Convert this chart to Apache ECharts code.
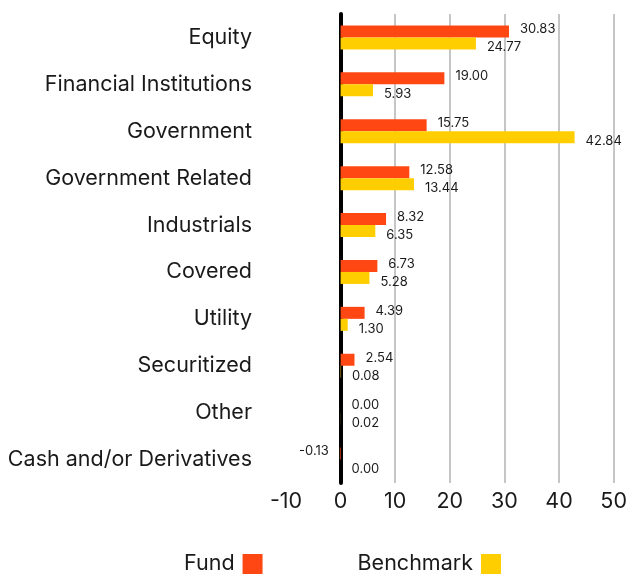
<!DOCTYPE html>
<html>
<head>
<meta charset="utf-8">
<script src="https://cdn.jsdelivr.net/npm/echarts@6/dist/echarts.min.js"></script>
<style>html,body{margin:0;padding:0;background:#fff}#c{width:630px;height:579px}</style>
</head>
<body>
<div id="c"></div>
<script>
const categories = ["Equity","Financial Institutions","Government","Government Related","Industrials","Covered","Utility","Securitized","Other","Cash and/or Derivatives"];
const fundValues = [30.83, 19.00, 15.75, 12.58, 8.32, 6.73, 4.39, 2.54, 0.00, -0.13];
const benchmarkValues = [24.77, 5.93, 42.84, 13.44, 6.35, 5.28, 1.30, 0.08, 0.02, 0.00];
const xTicks = [-10, 0, 10, 20, 30, 40, 50];

const FONT = 'Inter';
const chart = echarts.init(document.getElementById('c'));

function mk(vals, dy) {
  return vals.map(v => ({
    value: v,
    label: {
      position: v < 0 ? 'left' : 'right',
      offset: [0, dy]
    }
  }));
}

chart.setOption({
  animation: false,
  textStyle: { fontFamily: FONT },
  grid: { left: 286, right: 13, top: 14, bottom: 96, containLabel: false },
  legend: {
    left: 179, top: 548,
    align: 'right',
    itemWidth: 20, itemHeight: 20, itemGap: 95,
    icon: 'rect',
    textStyle: { fontFamily: FONT, fontSize: 21.5, color: '#1a1a1a', padding: [0, 3, 0, 0] },
    data: ['Fund', 'Benchmark']
  },
  xAxis: {
    type: 'value',
    min: xTicks[0], max: xTicks[xTicks.length - 1], interval: 10,
    axisLine: { show: false },
    axisTick: { show: false },
    axisLabel: { fontFamily: FONT, fontSize: 21.5, color: '#1a1a1a', margin: 8 },
    splitLine: { show: true, showMinLine: false, lineStyle: { color: '#c6c6c6', width: 2 } }
  },
  yAxis: {
    type: 'category',
    inverse: true,
    data: categories,
    axisLine: { show: true, onZero: true, lineStyle: { color: '#000', width: 4 } },
    axisTick: { show: false },
    axisLabel: { fontFamily: FONT, fontSize: 21.5, color: '#1a1a1a', margin: 34 },
    splitLine: { show: false }
  },
  series: [
    {
      name: 'Fund', type: 'bar', barWidth: 12, barGap: '0%',
      itemStyle: { color: '#FF4713' },
      label: { show: true, distance: 11, fontFamily: FONT, fontSize: 13, color: '#1a1a1a',
        formatter: p => p.value.toFixed(2) },
      data: mk(fundValues, -2)
    },
    {
      name: 'Benchmark', type: 'bar', barWidth: 12, barGap: '0%',
      itemStyle: { color: '#FFCE00' },
      label: { show: true, distance: 11, fontFamily: FONT, fontSize: 13, color: '#1a1a1a',
        formatter: p => p.value.toFixed(2) },
      data: mk(benchmarkValues, 4)
    }
  ]
});
</script>
</body>
</html>
